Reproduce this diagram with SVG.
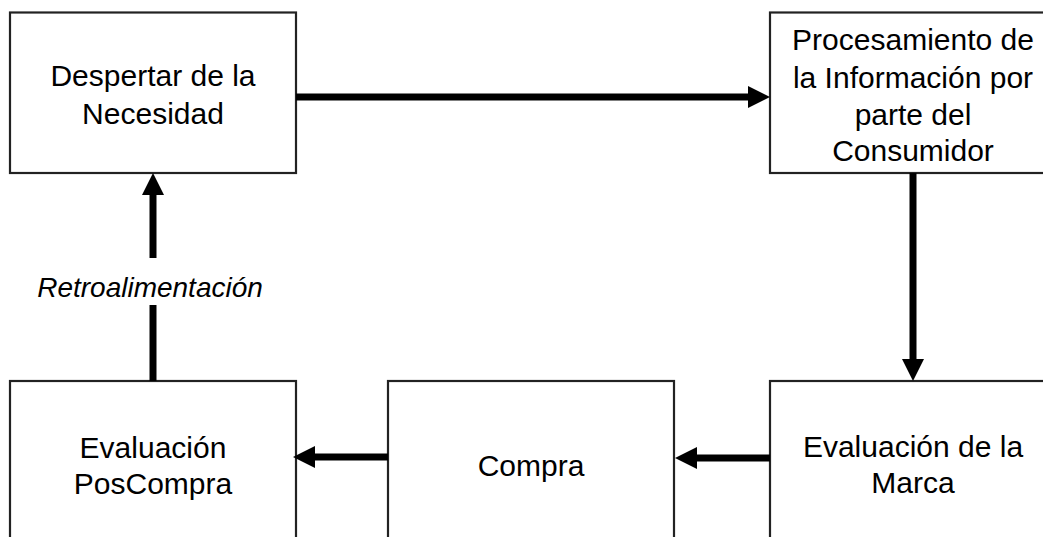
<svg xmlns="http://www.w3.org/2000/svg" width="1043" height="537" viewBox="0 0 1043 537">
<style>
.box{fill:#fff;stroke:#222;stroke-width:2.2}
.t{font-family:"Liberation Sans",Arial,sans-serif;font-size:30px;fill:#000;text-anchor:middle}
.lbl{font-family:"Liberation Sans",Arial,sans-serif;font-size:28px;font-style:italic;fill:#000;text-anchor:middle}
.ln{stroke:#000;stroke-width:7;fill:none}
.hd{fill:#000}
</style>
<rect width="1043" height="537" fill="#fff"/>
<g id="node-despertar">
<rect class="box" x="10" y="12.5" width="286" height="160.5"/>
<text class="t" x="153" y="86">Despertar de la</text>
<text class="t" x="153" y="124">Necesidad</text>
</g>
<g id="node-procesamiento">
<rect class="box" x="770" y="12.5" width="286" height="160.5"/>
<text class="t" x="913" y="50">Procesamiento de</text>
<text class="t" x="913" y="87.5">la Información por</text>
<text class="t" x="913" y="124.5">parte del</text>
<text class="t" x="913" y="161">Consumidor</text>
</g>
<g id="node-poscompra">
<rect class="box" x="10" y="381" width="286" height="170"/>
<text class="t" x="153" y="458">Evaluación</text>
<text class="t" x="153" y="494">PosCompra</text>
</g>
<g id="node-compra">
<rect class="box" x="388" y="381" width="286" height="170"/>
<text class="t" x="531" y="476">Compra</text>
</g>
<g id="node-marca">
<rect class="box" x="770" y="381" width="286" height="170"/>
<text class="t" x="913" y="457">Evaluación de la</text>
<text class="t" x="913" y="493">Marca</text>
</g>
<g id="connectors">
<line class="ln" x1="296" y1="97" x2="750" y2="97"/>
<polygon class="hd" points="770,97 748,86 748,108"/>
<line class="ln" x1="913" y1="173" x2="913" y2="361"/>
<polygon class="hd" points="913,381 902,359 924,359"/>
<line class="ln" x1="770" y1="458" x2="695" y2="458"/>
<polygon class="hd" points="675,458 697,447 697,469"/>
<line class="ln" x1="388" y1="457" x2="313" y2="457"/>
<polygon class="hd" points="293,457 315,446 315,468"/>
<line class="ln" x1="153" y1="381" x2="153" y2="305"/>
<line class="ln" x1="153" y1="258" x2="153" y2="193"/>
<polygon class="hd" points="153,173 142,195 164,195"/>
<text class="lbl" x="150" y="297">Retroalimentación</text>
</g>
</svg>
